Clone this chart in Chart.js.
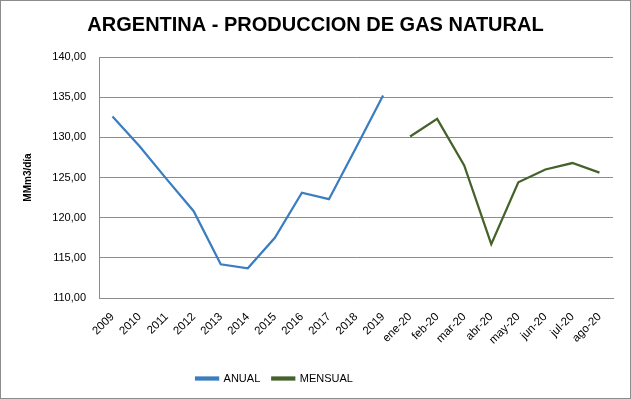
<!DOCTYPE html>
<html>
<head>
<meta charset="utf-8">
<script src="https://cdn.jsdelivr.net/npm/chart.js@4.4.0/dist/chart.umd.min.js"></script>
<style>
  html, body { margin: 0; padding: 0; background: #fff; }
  #wrap { width: 631px; height: 399px; }
</style>
</head>
<body>
<div id="wrap"><canvas id="myChart" width="631" height="399"></canvas></div>
<script>
// categories
let labels = ['2009', '2010', '2011', '2012', '2013', '2014', '2015', '2016', '2017', '2018', '2019',
    'ene-20', 'feb-20', 'mar-20', 'abr-20', 'may-20', 'jun-20', 'jul-20', 'ago-20'];
// annual values (MMm3/dia)
let anual = [132.6, 128.9, 124.8, 120.8, 114.2, 113.7, 117.5, 123.1, 122.3, 128.7, 135.2,
    null, null, null, null, null, null, null, null];
// monthly values 2020
let mensual = [null, null, null, null, null, null, null, null, null, null, null,
    130.1, 132.3, 126.5, 116.7, 124.4, 126.0, 126.8, 125.6];
// y axis ticks
let yMin = 110, yMax = 140, yStep = 5;

const fontFam = "'Liberation Sans', Arial, sans-serif";

// white background + thin outer border like the spreadsheet chart
const frame = {
    id: 'frame',
    beforeDraw(chart) {
        const c = chart.ctx;
        c.save();
        c.fillStyle = '#fff';
        c.fillRect(0, 0, chart.width, chart.height);
        c.strokeStyle = '#8c8c8c';
        c.lineWidth = 1;
        c.strokeRect(0.5, 0.5, chart.width - 1, chart.height - 1);
        c.restore();
    }
};

// legend sits a bit left of centre and slightly higher in the original
const legendShift = {
    id: 'legendShift',
    afterLayout(chart) {
        const lg = chart.legend;
        lg.left -= 41;
        lg.right -= 41;
        lg.top -= 5;
        lg.bottom -= 5;
    }
};

let ctx = document.getElementById('myChart').getContext('2d');

let chart = new Chart(ctx, {
    type: 'line',
    data: {
        labels: labels,
        datasets: [{
                label: 'ANUAL',
                data: anual,
                borderColor: '#3A7DC0',
                backgroundColor: '#3A7DC0',
                borderWidth: 2.25,
                pointRadius: 0,
                tension: 0
            }, {
                label: 'MENSUAL',
                data: mensual,
                borderColor: '#44622A',
                backgroundColor: '#44622A',
                borderWidth: 2.25,
                pointRadius: 0,
                tension: 0
            }]
    },
    options: {
        responsive: false,
        animation: false,
        layout: { padding: { left: 18, right: 18, top: 0, bottom: 0 } },
        plugins: {
            title: {
                display: true,
                text: 'ARGENTINA - PRODUCCION DE GAS NATURAL',
                color: '#000',
                font: { family: fontFam, size: 20, weight: 'bold', lineHeight: 1.2 },
                padding: { top: 13, bottom: 20 }
            },
            legend: {
                position: 'bottom',
                labels: {
                    color: '#000',
                    font: { family: fontFam, size: 11 },
                    boxWidth: 22,
                    boxHeight: 2,
                    padding: 12
                }
            },
            tooltip: { enabled: false }
        },
        scales: {
            x: {
                offset: true,
                grid: { display: false, offset: true },
                border: { color: '#8c8c8c' },
                ticks: {
                    color: '#000',
                    font: { family: fontFam, size: 11.5 },
                    minRotation: 45,
                    maxRotation: 45,
                    autoSkip: false,
                    padding: 4
                },
                afterFit(scale) { scale.height = 68; }
            },
            y: {
                min: yMin,
                max: yMax,
                grid: { color: '#8c8c8c', drawTicks: false },
                border: { color: '#8c8c8c' },
                ticks: {
                    stepSize: yStep,
                    color: '#000',
                    font: { family: fontFam, size: 11 },
                    padding: 13,
                    callback: v => v.toFixed(2).replace('.', ',')
                },
                title: {
                    display: true,
                    text: 'MMm3/día',
                    color: '#000',
                    font: { family: fontFam, size: 10, weight: 'bold' },
                    padding: { top: 4, bottom: 0 }
                },
                afterFit(scale) { scale.width = 81; }
            }
        }
    },
    plugins: [frame, legendShift]
});
</script>
</body>
</html>
